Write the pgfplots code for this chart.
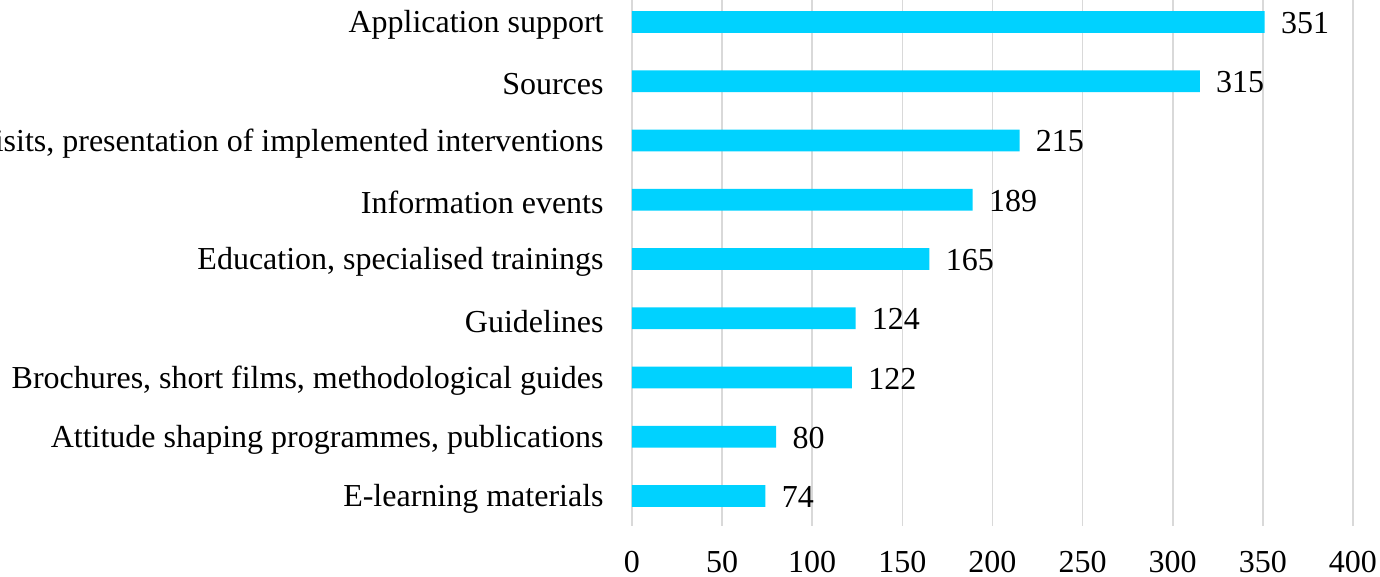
\documentclass[border=0pt]{standalone}
\usepackage{pgfplots}
\pgfplotsset{compat=1.18}
\usepackage{fontspec}
\setmainfont{Liberation Serif}
\definecolor{barc}{HTML}{00D2FF}
\definecolor{gridc}{HTML}{D9D9D9}
\begin{document}
\begin{tikzpicture}
\begin{axis}[
  scale only axis, width=360.5bp, height=266.6bp,
  xbar,
  xmin=0, xmax=400, ymin=-0.5, ymax=8.5,
  xtick={0,50,...,400},
  ytick={0,...,8},
  yticklabels={{E-learning materials},{Attitude shaping programmes, publications},{Brochures, short films, methodological guides},{Guidelines},{Education, specialised trainings},{Information events},{Study visits, presentation of implemented interventions},{Sources},{Application support}},
  font=\fontsize{16bp}{19bp}\selectfont,
  /pgf/number format/assume math mode=true,
  axis line style={draw=none},
  major tick length=0pt,
  xmajorgrids, grid style={gridc, line width=0.8bp},
  yticklabel style={inner sep=0pt, anchor=east, xshift=-14bp, yshift=-1.5bp},
  xticklabel style={inner sep=0pt, anchor=north, yshift=-12.5bp},
  clip=false,
]
\addplot[xbar, fill=barc, draw=none, bar width=0.37, point meta=x,
  nodes near coords, nodes near coords style={anchor=west, inner sep=0pt, xshift=8bp, yshift=-0.5bp, black}]
  coordinates {(74,0) (80,1) (122,2) (124,3) (165,4) (189,5) (215,6) (315,7) (351,8)};
\coordinate (bl) at (rel axis cs:0,0);
\coordinate (tr) at (rel axis cs:1,1);
\end{axis}
\pgfresetboundingbox
\useasboundingbox ([xshift=-316bp,yshift=-25.7bp]bl) rectangle ([xshift=13.5bp,yshift=-3.8bp]tr);
\end{tikzpicture}
\end{document}
